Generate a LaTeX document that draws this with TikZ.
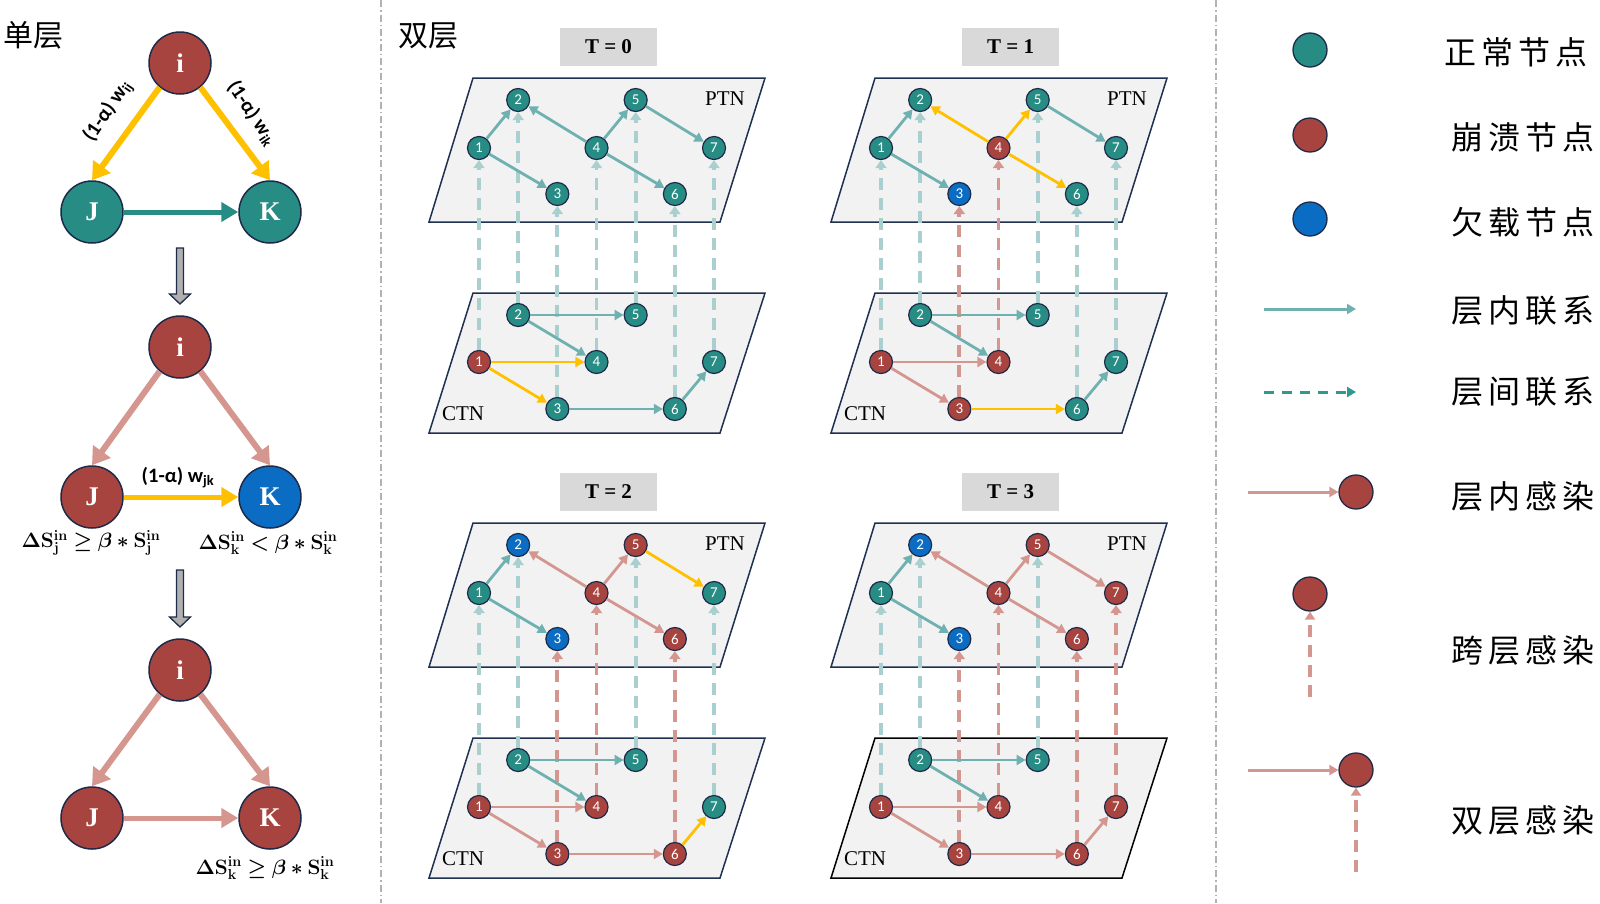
\documentclass[tikz,border=0pt]{standalone}
\usepackage[no-math]{fontspec}
\usepackage{bm}
\setmainfont{Liberation Serif}
\newfontfamily\cjk{Noto Sans CJK SC}
\newfontfamily\lab{Carlito}
\usetikzlibrary{arrows.meta}
\definecolor{cN}{HTML}{268C84}
\definecolor{cC}{HTML}{A84440}
\definecolor{cU}{HTML}{0A6CC2}
\definecolor{navy}{HTML}{1F2A48}
\definecolor{eT}{HTML}{6FB0B0}
\definecolor{eY}{HTML}{FFC000}
\definecolor{eP}{HTML}{D4968F}
\definecolor{iT}{HTML}{A9CFCF}
\definecolor{iP}{HTML}{D4968F}
\definecolor{lT}{HTML}{2E9A8F}
\definecolor{plane}{HTML}{F2F2F2}
\definecolor{pedge}{HTML}{1F3050}
\definecolor{tbox}{HTML}{D9D9D9}
\definecolor{garrow}{HTML}{B0B0B0}
\tikzset{
  big/.style={circle, draw=navy, line width=1.5pt, minimum size=62pt, inner sep=0pt,
    text=white, font=\fontsize{27}{27}\selectfont\bfseries},
  bigedge/.style={line width=6pt, -{Triangle[length=17pt,width=21pt]}},
  nd/.style={circle, draw=navy, line width=1.2pt, minimum size=23pt, inner sep=0pt,
    text=white, font=\lab\fontsize{15}{15}\selectfont},
  edge/.style={line width=2.8pt, -{Triangle[length=9pt,width=10pt]}},
  inter/.style={line width=3.8pt, dash pattern=on 12pt off 8pt, -{Triangle[length=8pt,width=11pt]}},
  layer/.style={fill=plane, line width=1.5pt},
  tlabel/.style={fill=tbox, minimum width=97pt, minimum height=38pt, inner sep=0pt,
    font=\fontsize{21}{21}\selectfont\bfseries},
  netlab/.style={font=\fontsize{21}{21}\selectfont, inner sep=0pt},
  leg/.style={anchor=west, inner sep=0pt, font=\cjk\fontsize{32}{32}\selectfont},
  divider/.style={draw=gray!60, line width=1.2pt, dash pattern=on 7pt off 3pt on 1.5pt off 3pt},
  mlab/.style={font=\fontsize{19.5}{19.5}\selectfont, inner sep=0pt},
  wlab/.style={font=\lab\fontsize{20.5}{20.5}\selectfont\bfseries, inner sep=0pt},
  blockarrow/.style={fill=garrow, draw=navy, line width=1.3pt, line join=miter},
}
\newcommand{\legsp}{\hspace{5pt}}
\newcommand{\bS}[1]{\mathbf{S}^{\mathbf{in}}_{\mathbf{#1}}}
% #1,#2 shift; #3 T label; #4 PTN node colours; #5 CTN node colours;
% #6 PTN edges; #7 CTN edges; #8 inter-layer colours; #9 CTN border colour
\newcommand{\panel}[9]{%
\begin{scope}[shift={(#1,#2)}]
  \node[tlabel] (tl) at (608.5,47) {T = #3};
  \draw[layer, draw=pedge] (473,78) -- (765,78) -- (720,222) -- (429,222) -- cycle;
  \draw[layer, draw=#9] (473,293) -- (765,293) -- (720,433) -- (429,433) -- cycle;
  \node[netlab] (ptn) at (725,99) {PTN};
  \node[netlab] (ctn) at (463,414) {CTN};
  \foreach \c [count=\k] in {#4} {
    \pgfmathsetmacro\xx{479+(\k-1)*39.17}
    \pgfmathsetmacro\yy{{148,100,194}[mod(\k-1,3)]}
    \node[nd, fill=\c] (p\k) at (\xx,\yy) {\k};
  }
  \foreach \c [count=\k] in {#5} {
    \pgfmathsetmacro\xx{479+(\k-1)*39.17}
    \pgfmathsetmacro\yy{{362,315,409}[mod(\k-1,3)]}
    \node[nd, fill=\c] (c\k) at (\xx,\yy) {\k};
  }
  \foreach \c [count=\k] in {#8} {
    \draw[inter, color=\c] (c\k) -- (p\k);
  }
  \foreach \a/\b/\c in {#6} {
    \draw[edge, color=\c] (p\a) -- (p\b);
  }
  \foreach \a/\b/\c in {#7} {
    \draw[edge, color=\c] (c\a) -- (c\b);
  }
\end{scope}}
\begin{document}
\begin{tikzpicture}[x=1pt, y=-1pt]
\useasboundingbox (0,0) rectangle (1600,903);
\fill[white] (0,0) rectangle (1600,903);

% dividers
\draw[divider] (381,0) -- (381,903);
\draw[divider] (1216,0) -- (1216,903);

% ---------- left: single layer ----------
\node[font=\cjk\fontsize{30}{30}\selectfont, inner sep=0pt] (dan) at (33,35) {单层};

% top triangle
\node[big, fill=cC] (i1) at (180,63) {i};
\node[big, fill=cN] (j1) at (92,212) {J};
\node[big, fill=cN] (k1) at (270,212) {K};
\draw[bigedge, eY] (i1.230) -- (j1.north);
\draw[bigedge, eY] (i1.-50) -- (k1.north);
\draw[line width=5pt, cN, -{Triangle[length=17pt,width=19pt]}] (j1.east) -- (k1.west);
\node[wlab, rotate=56] (wij) at (108,111) {(1-α) w\textsubscript{ij}};
\node[wlab, rotate=-56] (wik) at (252,113) {(1-α) w\textsubscript{ik}};

% gray arrow 1
\draw[blockarrow] (176.5,248) -- (183.5,248) -- (183.5,294) -- (190.5,294) -- (180,304)
  -- (169.5,294) -- (176.5,294) -- cycle;

% middle triangle
\node[big, fill=cC] (i2) at (180,347) {i};
\node[big, fill=cC] (j2) at (92,497) {J};
\node[big, fill=cU] (k2) at (270,497) {K};
\draw[bigedge, eP] (i2.230) -- (j2.north);
\draw[bigedge, eP] (i2.-50) -- (k2.north);
\draw[line width=5pt, eY, -{Triangle[length=17pt,width=19pt]}] (j2.east) -- (k2.west);
\node[wlab] (wjk) at (178,478) {(1-α) w\textsubscript{jk}};
\node[mlab] (sj) at (91,543) {$\bm{\Delta}\bS{j} \bm{\geq} \bm{\beta} \bm{*} \bS{j}$};
\node[mlab] (sk) at (268,543) {$\bm{\Delta}\bS{k} \bm{<} \bm{\beta} \bm{*} \bS{k}$};

% gray arrow 2
\draw[blockarrow] (176.5,570) -- (183.5,570) -- (183.5,617) -- (190.5,617) -- (180,627)
  -- (169.5,617) -- (176.5,617) -- cycle;

% bottom triangle
\node[big, fill=cC] (i3) at (180,670) {i};
\node[big, fill=cC] (j3) at (92,818) {J};
\node[big, fill=cC] (k3) at (270,818) {K};
\draw[bigedge, eP] (i3.230) -- (j3.north);
\draw[bigedge, eP] (i3.-50) -- (k3.north);
\draw[line width=5pt, eP, -{Triangle[length=17pt,width=19pt]}] (j3.east) -- (k3.west);
\node[mlab] (sk3) at (265,868) {$\bm{\Delta}\bS{k} \bm{\geq} \bm{\beta} \bm{*} \bS{k}$};

% ---------- middle: double layer ----------
\node[font=\cjk\fontsize{30}{30}\selectfont, inner sep=0pt] (shuang) at (428,36) {双层};

\panel{0}{0}{0}
  {cN,cN,cN,cN,cN,cN,cN}
  {cC,cN,cN,cN,cN,cN,cN}
  {1/2/eT,1/3/eT,4/2/eT,4/5/eT,4/6/eT,5/7/eT}
  {2/5/eT,2/4/eT,1/4/eY,1/3/eY,3/6/eT,6/7/eT}
  {iT,iT,iT,iT,iT,iT,iT}{pedge}

\panel{402}{0}{1}
  {cN,cN,cU,cC,cN,cN,cN}
  {cC,cN,cC,cC,cN,cN,cN}
  {1/2/eT,1/3/eT,4/2/eY,4/5/eY,4/6/eY,5/7/eT}
  {2/5/eT,2/4/eT,1/4/eP,1/3/eP,3/6/eY,6/7/eT}
  {iT,iT,iP,iP,iT,iT,iT}{pedge}

\panel{0}{445}{2}
  {cN,cU,cU,cC,cC,cC,cN}
  {cC,cN,cC,cC,cN,cC,cN}
  {1/2/eT,1/3/eT,4/2/eP,4/5/eP,4/6/eP,5/7/eY}
  {2/5/eT,2/4/eT,1/4/eP,1/3/eP,3/6/eP,6/7/eY}
  {iT,iT,iP,iP,iT,iP,iT}{pedge}

\panel{402}{445}{3}
  {cN,cU,cU,cC,cC,cC,cC}
  {cC,cN,cC,cC,cN,cC,cC}
  {1/2/eT,1/3/eT,4/2/eP,4/5/eP,4/6/eP,5/7/eP}
  {2/5/eT,2/4/eT,1/4/eP,1/3/eP,3/6/eP,6/7/eP}
  {iT,iT,iP,iP,iT,iP,iP}{black}

% ---------- legend ----------
\node[circle, draw=navy, line width=1.3pt, fill=cN, minimum size=34pt, inner sep=0pt] (lg1) at (1310,50) {};
\node[leg] (lt1) at (1444,52) {正\legsp 常\legsp 节\legsp 点};
\node[circle, draw=navy, line width=1.3pt, fill=cC, minimum size=34pt, inner sep=0pt] (lg2) at (1310,135) {};
\node[leg] (lt2) at (1451,137) {崩\legsp 溃\legsp 节\legsp 点};
\node[circle, draw=navy, line width=1.3pt, fill=cU, minimum size=34pt, inner sep=0pt] (lg3) at (1310,219) {};
\node[leg] (lt3) at (1451,222) {欠\legsp 载\legsp 节\legsp 点};

\coordinate (a4s) at (1264,309);
\coordinate (a4e) at (1356,309);
\draw[line width=3pt, eT, -{Triangle[length=9pt,width=10pt]}] (a4s) -- (a4e);
\node[leg] (lt4) at (1451,310) {层\legsp 内\legsp 联\legsp 系};

\coordinate (a5s) at (1264,392);
\coordinate (a5e) at (1356,392);
\draw[line width=3pt, lT, dash pattern=on 10pt off 8pt, -{Triangle[length=9pt,width=10pt]}] (a5s) -- (a5e);
\node[leg] (lt5) at (1451,392) {层\legsp 间\legsp 联\legsp 系};

\node[circle, draw=navy, line width=1.3pt, fill=cC, minimum size=34pt, inner sep=0pt] (lg6) at (1356,492) {};
\coordinate (a6s) at (1248,492);
\draw[line width=3pt, eP, -{Triangle[length=9pt,width=10pt]}] (a6s) -- (lg6);
\node[leg] (lt6) at (1451,496) {层\legsp 内\legsp 感\legsp 染};

\node[circle, draw=navy, line width=1.3pt, fill=cC, minimum size=34pt, inner sep=0pt] (lg7) at (1310,594) {};
\coordinate (a7s) at (1310,697);
\draw[line width=3.6pt, iP, dash pattern=on 12pt off 8pt, -{Triangle[length=8pt,width=10pt]}] (a7s) -- (lg7);
\node[leg] (lt7) at (1451,650) {跨\legsp 层\legsp 感\legsp 染};

\node[circle, draw=navy, line width=1.3pt, fill=cC, minimum size=34pt, inner sep=0pt] (lg8) at (1356,770) {};
\coordinate (a8s) at (1248,770);
\coordinate (a8d) at (1356,872);
\draw[line width=3pt, eP, -{Triangle[length=9pt,width=10pt]}] (a8s) -- (lg8);
\draw[line width=3.6pt, iP, dash pattern=on 12pt off 8pt, -{Triangle[length=8pt,width=10pt]}] (a8d) -- (lg8);
\node[leg] (lt8) at (1451,820) {双\legsp 层\legsp 感\legsp 染};
\end{tikzpicture}
\end{document}
